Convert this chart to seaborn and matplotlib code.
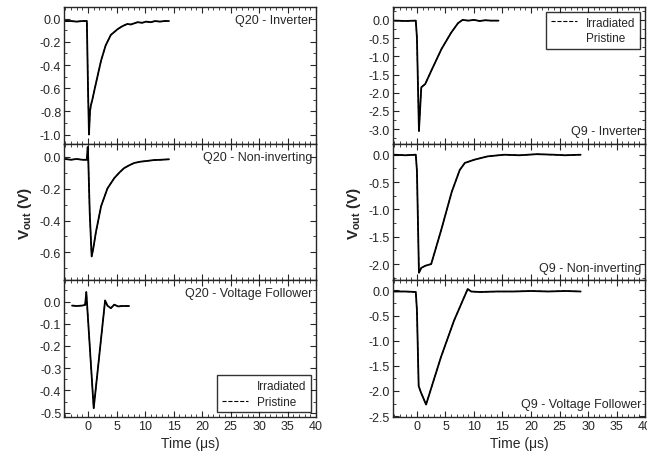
import matplotlib
matplotlib.use("Agg")
import matplotlib.pyplot as plt
import seaborn as sns
from matplotlib.ticker import MultipleLocator, FormatStrFormatter

# Q20 - Inverter
q20_inv_t = [-4, -3, -2, -1, -0.2, 0.0, 0.17, 0.35, 0.5, 0.8, 1.2, 1.7, 2.3, 3.1, 4.0, 5.2, 6.0, 6.9, 7.5, 8.7, 9.5, 10.2, 11.0, 11.8, 12.6, 13.4, 14.2]
q20_inv_v = [-0.02, -0.02, -0.025, -0.02, -0.02, -0.6, -1.0, -0.8, -0.75, -0.69, -0.6, -0.49, -0.36, -0.23, -0.14, -0.09, -0.065, -0.045, -0.05, -0.03, -0.035, -0.025, -0.03, -0.02, -0.025, -0.02, -0.02]

# Q20 - Non-inverting
q20_non_t = [-4, -3, -2, -1, -0.2, -0.05, 0.05, 0.3, 0.64, 0.9, 1.4, 2.3, 3.4, 4.6, 5.5, 6.3, 7.2, 8.1, 9.2, 10.4, 11.5, 12.8, 14.2]
q20_non_v = [-0.015, -0.02, -0.015, -0.02, -0.02, 0.06, -0.02, -0.35, -0.625, -0.58, -0.47, -0.31, -0.2, -0.135, -0.1, -0.073, -0.055, -0.04, -0.032, -0.027, -0.022, -0.02, -0.017]

# Q20 - Voltage Follower
q20_vf_t = [-2.8, -2, -1, -0.5, -0.3, 1.0, 3.0, 3.4, 4.0, 4.6, 5.3, 6.0, 7.2]
q20_vf_v = [-0.018, -0.02, -0.018, -0.015, 0.043, -0.48, 0.005, -0.018, -0.03, -0.014, -0.022, -0.02, -0.02]

# Q9 - Inverter
q9_inv_t = [-4, -2, -0.2, 0.0, 0.35, 0.76, 1.45, 2.5, 4.3, 6.0, 7.2, 8.0, 9, 10, 11, 12, 13, 14.3]
q9_inv_v = [-0.02, -0.03, -0.02, -0.5, -3.05, -1.85, -1.76, -1.4, -0.8, -0.35, -0.09, 0.0, -0.02, 0.0, -0.03, -0.01, -0.02, -0.02]

# Q9 - Non-inverting
q9_non_t = [-4, -2, -0.2, 0.0, 0.35, 0.76, 1.5, 2.5, 4.3, 6.1, 7.5, 8.4, 10.1, 12.4, 15.3, 18, 21, 24, 26, 28.7]
q9_non_v = [0, -0.01, 0, -0.3, -2.16, -2.07, -2.03, -2.0, -1.36, -0.68, -0.28, -0.15, -0.09, -0.03, 0, -0.01, 0.01, 0, -0.01, 0]

# Q9 - Voltage Follower
q9_vf_t = [-4, -2, -0.2, 0.0, 0.3, 0.7, 1.6, 4.2, 6.5, 8.9, 9.5, 11, 14, 17, 20, 23, 26, 28.7]
q9_vf_v = [-0.02, -0.02, -0.03, -0.4, -1.9, -2.03, -2.27, -1.33, -0.6, 0.03, -0.02, -0.03, -0.02, -0.02, -0.01, -0.02, -0.01, -0.02]

panels = [
    # (row, col, t, v, title, ylim, major, minor, title position)
    (0, 0, q20_inv_t, q20_inv_v, "Q20 - Inverter", (-1.08, 0.1), 0.2, 0.1, "top"),
    (1, 0, q20_non_t, q20_non_v, "Q20 - Non-inverting", (-0.775, 0.08), 0.2, 0.1, "top"),
    (2, 0, q20_vf_t, q20_vf_v, "Q20 - Voltage Follower", (-0.52, 0.095), 0.1, 0.05, "top"),
    (0, 1, q9_inv_t, q9_inv_v, "Q9 - Inverter", (-3.4, 0.35), 0.5, 0.25, "bottom"),
    (1, 1, q9_non_t, q9_non_v, "Q9 - Non-inverting", (-2.3, 0.2), 0.5, 0.25, "bottom"),
    (2, 1, q9_vf_t, q9_vf_v, "Q9 - Voltage Follower", (-2.52, 0.2), 0.5, 0.25, "bottom"),
]

sns.set_style("ticks")
plt.rcParams['font.family'] = ['Liberation Sans', 'DejaVu Sans']
plt.rcParams['font.size'] = 9
plt.rcParams['mathtext.fontset'] = 'custom'
plt.rcParams['mathtext.rm'] = 'Liberation Sans'
plt.rcParams['mathtext.bf'] = 'Liberation Sans:bold'

fig, axes = plt.subplots(3, 2, figsize=(6.47, 4.52), dpi=100)
fig.subplots_adjust(left=0.099, right=0.997, top=0.982, bottom=0.075, hspace=0, wspace=0.305)

for row, col, t, v, name, ylim, major, minor, pos in panels:
    ax = axes[row, col]
    sns.lineplot(x=t, y=v, ax=ax, color="black", lw=1.3, label="Irradiated")
    sns.lineplot(x=t, y=v, ax=ax, color="black", lw=0.8, ls="--", label="Pristine")
    ax.set_xlim(-4.2, 40)
    ax.set_ylim(*ylim)
    ax.xaxis.set_major_locator(MultipleLocator(5))
    ax.xaxis.set_minor_locator(MultipleLocator(1))
    ax.yaxis.set_major_locator(MultipleLocator(major))
    ax.yaxis.set_minor_locator(MultipleLocator(minor))
    ax.tick_params(which="both", direction="in", top=True, right=True, labelsize=9, pad=2)
    ax.tick_params(which="major", length=4, width=0.8)
    ax.tick_params(which="minor", length=2, width=0.6)
    ax.yaxis.set_major_formatter(FormatStrFormatter("%.1f"))
    for s in ax.spines.values():
        s.set_linewidth(1.0)
    if pos == "top":
        ax.text(0.985, 0.95, name, transform=ax.transAxes, ha="right", va="top", fontsize=9)
    else:
        ax.text(0.985, 0.05, name, transform=ax.transAxes, ha="right", va="bottom", fontsize=9)
    if row < 2:
        ax.tick_params(labelbottom=False)
    else:
        ax.set_xlabel("Time (\u03bcs)", fontsize=10, labelpad=3)
    if ax.get_legend() is not None:
        ax.get_legend().remove()

axes[1, 0].set_ylabel(r"V$_{\mathbf{out}}$ (V)", fontsize=11, fontweight="bold")
axes[1, 1].set_ylabel(r"V$_{\mathbf{out}}$ (V)", fontsize=11, fontweight="bold")


def add_legend(ax, loc, hide):
    leg = ax.legend(loc=loc, frameon=True, fancybox=False, edgecolor="black",
                    fontsize=8.5, handlelength=2.2, borderpad=0.4, labelspacing=0.3,
                    borderaxespad=0.4)
    leg.get_frame().set_linewidth(1.0)
    # only one sample line is visible in each legend box, drawn dashed
    for i, h in enumerate(leg.legend_handles):
        if i == hide:
            h.set_visible(False)
        else:
            h.set_linestyle("--")
            h.set_linewidth(0.8)
    return leg


add_legend(axes[2, 0], "lower right", 0)
add_legend(axes[0, 1], "upper right", 1)

fig.savefig("out.png", dpi=100)
